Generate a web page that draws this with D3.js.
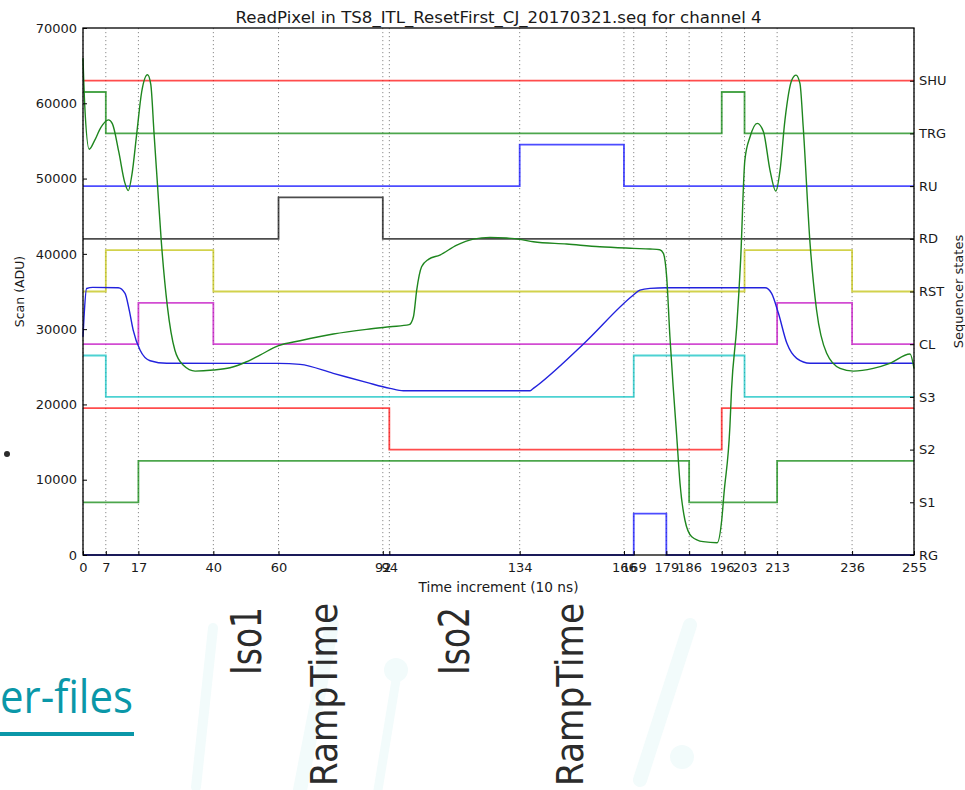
<!DOCTYPE html>
<html>
<head>
<meta charset="utf-8">
<script src="https://cdn.jsdelivr.net/npm/d3@7"></script>
<style>
  html, body { margin: 0; padding: 0; background: #fff; }
  svg { display: block; }
  text { font-family: "DejaVu Sans", sans-serif; }
</style>
</head>
<body>
<svg id="chart" width="965" height="790"></svg>
<script>
// ---- axis ticks -------------------------------------------------------
const timeTicks = [0, 7, 17, 40, 60, 92, 94, 134, 166, 169, 179, 186, 196, 203, 213, 236, 255];
const aduTicks = [0, 10000, 20000, 30000, 40000, 50000, 60000, 70000];

// ---- sequencer channels (bottom to top) -------------------------------
const stateNames = ["RG", "S1", "S2", "S3", "CL", "RST", "RD", "RU", "TRG", "SHU"];
const stateOffsets = [0, 7000, 14000, 21000, 28000, 35000, 42000, 49000, 56000, 63000];
const stateHigh = 5500;
const stateColors = ["#0000ff", "#008000", "#ff0000", "#00bfbf", "#bf00bf",
                     "#bfbf00", "#000000", "#0000ff", "#008000", "#ff0000"];

// [time, level] transitions of each clock line
const rgEdges  = [[0, 0], [169, 1], [179, 0]];
const s1Edges  = [[0, 0], [17, 1], [186, 0], [213, 1]];
const s2Edges  = [[0, 1], [94, 0], [196, 1]];
const s3Edges  = [[0, 1], [7, 0], [169, 1], [203, 0]];
const clEdges  = [[0, 0], [17, 1], [40, 0], [213, 1], [236, 0]];
const rstEdges = [[0, 0], [7, 1], [40, 0], [203, 1], [236, 0]];
const rdEdges  = [[0, 0], [60, 1], [92, 0]];
const ruEdges  = [[0, 0], [134, 1], [166, 0]];
const trgEdges = [[0, 1], [7, 0], [196, 1], [203, 0]];
const shuEdges = [[0, 0]];
const channelEdges = [rgEdges, s1Edges, s2Edges, s3Edges, clEdges,
                      rstEdges, rdEdges, ruEdges, trgEdges, shuEdges];

// ---- measured video signal (green) ------------------------------------
const scanTimes = [0, 0.5, 1.9, 3.5, 5.5, 7.8, 9, 11, 12.8, 13.9, 15, 16.5, 18, 19.8, 20.8,
  21.8, 22.9, 24, 25.9, 28.2, 30.8, 34.4, 40, 45.1, 50.2, 54.3, 60, 66.6, 76.8, 87,
  94.2, 100.1, 101.4, 102.4, 103.9, 106, 109.5, 114.7, 119.8, 124.9, 130, 134.1, 138.2,
  148.4, 158.6, 168.9, 174, 177, 178.1, 179.1, 180.1, 181.1, 182.2, 183.2, 184.7, 186.8,
  190.3, 194.6, 196, 196.7, 198.5, 199, 200.6, 201.8, 203.1, 204.7, 206.9, 208.8, 210.8,
  212.6, 213.9, 215.4, 217.5, 218.8, 220, 221, 223.1, 225.1, 228.2, 232.3, 236.4, 242.5,
  247.6, 253.8, 255];
const scanAdu = [66000, 60000, 53900, 55000, 56800, 57800, 57300, 53500, 49500, 48400, 50500,
  56000, 61500, 63800, 62500, 56000, 48900, 41800, 33000, 27200, 25200, 24430, 24570,
  24870, 25670, 26560, 27800, 28460, 29350, 29970, 30320, 30600, 31650, 35190, 38290,
  39270, 39840, 41170, 41960, 42190, 42100, 41920, 41610, 41300, 40940, 40730, 40640,
  40550, 40060, 36960, 28990, 22350, 15710, 9520, 4650, 2430, 1770, 1630, 4650, 8190,
  17000, 21900, 30320, 39180, 52460, 55550, 57330, 56220, 51130, 48340, 51130, 57770,
  63080, 63740, 62640, 56880, 41390, 32540, 26790, 24790, 24430, 24790, 25460, 26690,
  24790];

// ---- second trace (blue) ----------------------------------------------
const traceTimes = [0, 0.3, 1.1, 3, 10.8, 12.9, 14.2, 15.4, 17.5, 20.6, 25.7, 60, 66.6,
  76.8, 87, 94.2, 98.3, 137.2, 138.2, 153.5, 168.9, 170.9, 174, 179, 209.3, 211.3, 213.4,
  216, 219, 223.1, 255];
const traceAdu = [29000, 31500, 35400, 35550, 35500, 34750, 32500, 29880, 27220, 25800,
  25460, 25450, 25320, 24130, 22930, 22130, 21820, 21820, 22130, 28000, 34530, 35190,
  35420, 35500, 35500, 34750, 32100, 28110, 26120, 25460, 25460];

// ---- annotations below the chart --------------------------------------
const phaseLabels = ["Iso1", "RampTime", "Iso2", "RampTime"];

// ---- layout -----------------------------------------------------------
const svg = d3.select("#chart");
const plot = { left: 83, right: 914, top: 28, bottom: 555 };
const x = d3.scaleLinear().domain([0, 255]).range([plot.left, plot.right]);
const y = d3.scaleLinear().domain([0, 70000]).range([plot.bottom, plot.top]);
const ink = "#1a1a1a";

// faint background watermark strokes
const wmColor = "#f2fbfb";
const wm = svg.append("g").attr("fill", "none").attr("stroke", wmColor)
  .attr("stroke-linecap", "round");
wm.append("path").attr("d", "M332,625 L300,790").attr("stroke-width", 14);
wm.append("path").attr("d", "M213,628 L196,787").attr("stroke-width", 10);
wm.append("circle").attr("cx", 396).attr("cy", 670).attr("r", 12).attr("fill", wmColor).attr("stroke", "none");
wm.append("path").attr("d", "M396,680 L378,790").attr("stroke-width", 9);
wm.append("path").attr("d", "M690,625 L640,780").attr("stroke-width", 14);
wm.append("circle").attr("cx", 682).attr("cy", 757).attr("r", 12).attr("fill", wmColor).attr("stroke", "none");

// vertical dotted grid at the tick times
svg.append("g").selectAll("line").data(timeTicks).join("line")
  .attr("x1", d => x(d)).attr("x2", d => x(d))
  .attr("y1", plot.top).attr("y2", plot.bottom)
  .attr("stroke", "#8a8a8a").attr("stroke-width", 1)
  .attr("stroke-dasharray", "1.2,2.8");

// clock lines
const stepLine = d3.line()
  .x(d => x(d[0]))
  .y(d => y(d[1]))
  .curve(d3.curveStepAfter);

const gStates = svg.append("g");
channelEdges.forEach((edges, i) => {
  const pts = edges.map(e => [e[0], stateOffsets[i] + e[1] * stateHigh]);
  const last = edges[edges.length - 1];
  pts.push([255, stateOffsets[i] + last[1] * stateHigh]);
  gStates.append("path")
    .attr("d", stepLine(pts))
    .attr("fill", "none")
    .attr("stroke", stateColors[i])
    .attr("stroke-opacity", 0.7)
    .attr("stroke-width", 1.8);
});

// analog traces
const smooth = d3.line()
  .x(d => x(d[0]))
  .y(d => y(d[1]))
  .curve(d3.curveMonotoneX);

svg.append("path")
  .attr("d", smooth(traceTimes.map((t, i) => [t, traceAdu[i]])))
  .attr("fill", "none").attr("stroke", "#2222dd").attr("stroke-width", 1.4);

svg.append("path")
  .attr("d", smooth(scanTimes.map((t, i) => [t, scanAdu[i]])))
  .attr("fill", "none").attr("stroke", "#1e861e").attr("stroke-width", 1.4);

// axes
const axisFont = g => g.selectAll("text").style("font-size", "13px")
  .style("font-family", "'DejaVu Sans', sans-serif").style("fill", ink);

svg.append("g")
  .attr("transform", `translate(${plot.left},0)`)
  .call(d3.axisLeft(y).tickValues(aduTicks).tickFormat(d3.format("d"))
    .tickSizeInner(-4).tickSizeOuter(0).tickPadding(6))
  .call(g => g.select(".domain").remove())
  .call(g => g.selectAll("line").attr("stroke", "#000"))
  .call(axisFont);

svg.append("g")
  .attr("transform", `translate(0,${plot.bottom})`)
  .call(d3.axisBottom(x).tickValues(timeTicks).tickFormat(d3.format("d"))
    .tickSizeInner(-4).tickSizeOuter(0).tickPadding(8))
  .call(g => g.select(".domain").remove())
  .call(g => g.selectAll("line").attr("stroke", "#000"))
  .call(axisFont);

const yState = d3.scaleOrdinal().domain(stateNames).range(stateOffsets.map(v => y(v)));
svg.append("g")
  .attr("transform", `translate(${plot.right},0)`)
  .call(d3.axisRight(yState).tickSizeInner(-4).tickSizeOuter(0).tickPadding(5))
  .call(g => g.select(".domain").remove())
  .call(g => g.selectAll("line").attr("stroke", "#000"))
  .call(axisFont);

// frame
svg.append("rect")
  .attr("x", plot.left).attr("y", plot.top)
  .attr("width", plot.right - plot.left).attr("height", plot.bottom - plot.top)
  .attr("fill", "none").attr("stroke", "#000").attr("stroke-width", 1.3);

// titles
svg.append("text")
  .attr("x", (plot.left + plot.right) / 2).attr("y", 22.5)
  .attr("text-anchor", "middle").style("font-size", "16.6px").style("fill", ink)
  .text("ReadPixel in TS8_ITL_ResetFirst_CJ_20170321.seq for channel 4");

svg.append("text")
  .attr("x", (plot.left + plot.right) / 2).attr("y", 592)
  .attr("text-anchor", "middle").style("font-size", "13.7px").style("fill", ink)
  .text("Time increment (10 ns)");

svg.append("text")
  .attr("transform", `translate(24,${(plot.top + plot.bottom) / 2}) rotate(-90)`)
  .attr("text-anchor", "middle").style("font-size", "12.5px").style("fill", ink)
  .text("Scan (ADU)");

svg.append("text")
  .attr("transform", `translate(963,${(plot.top + plot.bottom) / 2}) rotate(-90)`)
  .attr("text-anchor", "middle").style("font-size", "13px").style("fill", ink)
  .text("Sequencer states");

// phase annotations written vertically below the time axis
const phasePos = [
  { x: 261, y: 675, size: 43, len: 68 },
  { x: 337, y: 786, size: 37, len: 183 },
  { x: 469, y: 675, size: 43, len: 68 },
  { x: 583, y: 786, size: 37, len: 183 }
];
phaseLabels.forEach((t, i) => {
  const p = phasePos[i];
  svg.append("text")
    .attr("transform", `translate(${p.x},${p.y}) rotate(-90)`)
    .attr("textLength", p.len).attr("lengthAdjust", "spacingAndGlyphs")
    .style("font-size", p.size + "px").style("fill", "#2b2b2b")
    .text(t);
});

// fragment of a link and a bullet on the page margin
const linkColor = "#0a97a8";
svg.append("circle").attr("cx", 7).attr("cy", 454).attr("r", 3).attr("fill", "#2b2b2b");
svg.append("text")
  .attr("x", 0).attr("y", 713)
  .attr("textLength", 133).attr("lengthAdjust", "spacingAndGlyphs")
  .style("font-family", "'Open Sans', 'Noto Sans', sans-serif")
  .style("font-size", "46px").style("fill", linkColor)
  .text("er-files");
svg.append("rect").attr("x", 0).attr("y", 732).attr("width", 134).attr("height", 4)
  .attr("fill", linkColor);
</script>
</body>
</html>
